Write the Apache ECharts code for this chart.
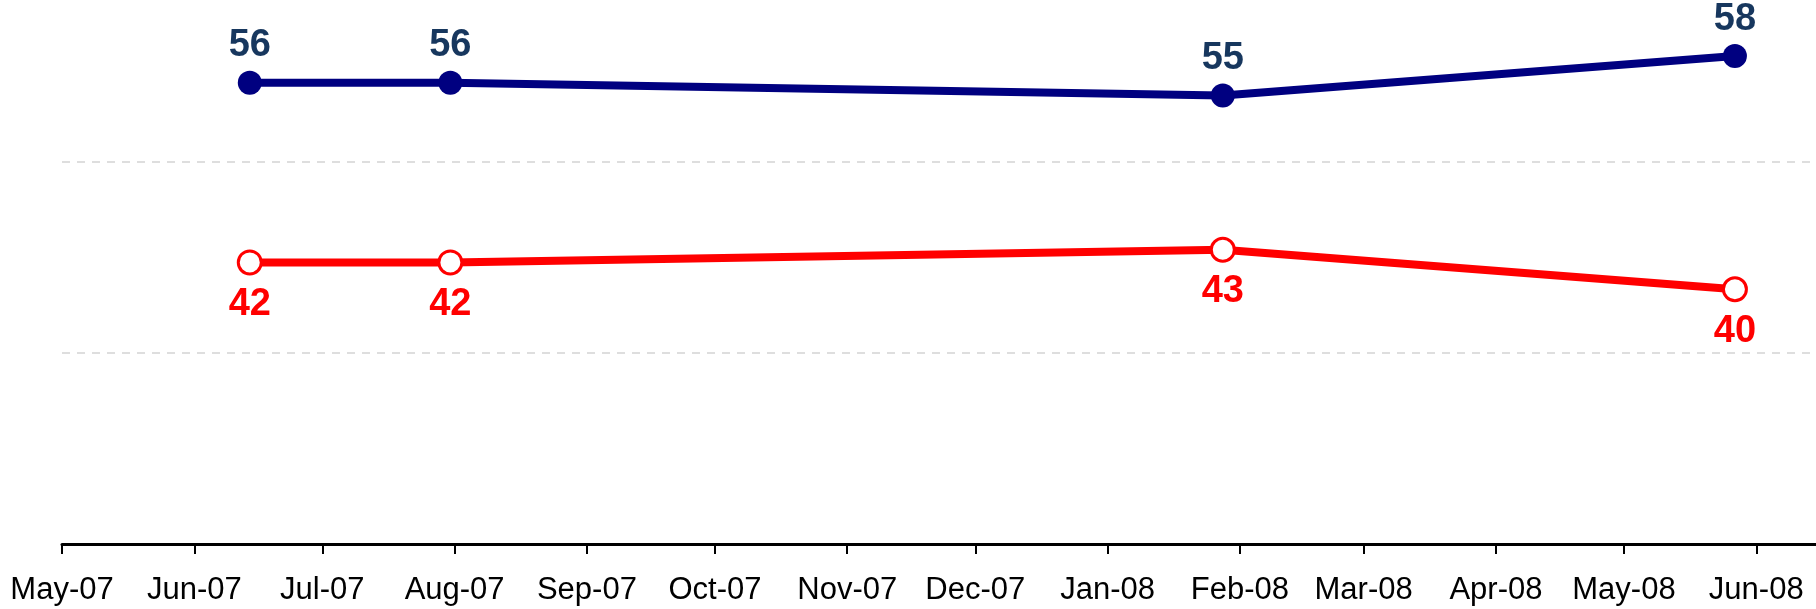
<!DOCTYPE html>
<html>
<head>
<meta charset="utf-8">
<script src="https://cdn.jsdelivr.net/npm/echarts@6/dist/echarts.min.js"></script>
<style>
  html, body { margin: 0; padding: 0; background: #fff; }
  #chart { width: 1816px; height: 609px; }
</style>
</head>
<body>
<div id="chart"></div>
<script>
// survey dates and results
const surveyDates = ['2007-06-14', '2007-07-31', '2008-01-28', '2008-05-27'];
const blueValues = [56.2, 56.2, 55.2, 58.3];
const redValues = [42.1, 42.1, 43.1, 40.0];

// x axis month ticks
const monthTicks = ['2007-05-01', '2007-06-01', '2007-07-01', '2007-08-01', '2007-09-01',
  '2007-10-01', '2007-11-01', '2007-12-01', '2008-01-01', '2008-02-01', '2008-03-01',
  '2008-04-01', '2008-05-01', '2008-06-01'];
const tickLabels = ['May-07', 'Jun-07', 'Jul-07', 'Aug-07', 'Sep-07', 'Oct-07', 'Nov-07',
  'Dec-07', 'Jan-08', 'Feb-08', 'Mar-08', 'Apr-08', 'May-08', 'Jun-08'];

const toTime = s => Date.UTC(+s.slice(0, 4), +s.slice(5, 7) - 1, +s.slice(8, 10));
const tickTimes = monthTicks.map(toTime);

const chart = echarts.init(document.getElementById('chart'));

const option = {
  backgroundColor: '#fff',
  animation: false,
  grid: {
    left: 62,
    right: 0,
    top: 0,
    bottom: 65
  },
  xAxis: {
    // date axis drawn as a numeric (ms) axis so ticks sit on month starts
    type: 'value',
    min: toTime('2007-05-01'),
    max: toTime('2008-06-15'),
    axisLine: { show: true, onZero: false, lineStyle: { color: '#000', width: 3 } },
    axisTick: {
      show: true,
      length: 10,
      customValues: tickTimes,
      lineStyle: { color: '#000', width: 2 }
    },
    axisLabel: {
      customValues: tickTimes,
      margin: 31,
      color: '#000',
      fontFamily: 'Liberation Sans, Arial, sans-serif',
      fontSize: 31,
      formatter: function (v) {
        const i = tickTimes.indexOf(v);
        return i >= 0 ? tickLabels[i] : '';
      }
    },
    splitLine: { show: false }
  },
  yAxis: {
    type: 'value',
    min: 20,
    max: 62.7,
    interval: 15,
    axisLine: { show: false },
    axisTick: { show: false },
    axisLabel: { show: false },
    splitLine: {
      show: true,
      showMinLine: false,
      showMaxLine: false,
      lineStyle: { color: '#d4d4d4', width: 1.5, type: [8, 7] }
    }
  },
  series: [
    {
      name: 'blue',
      type: 'line',
      data: surveyDates.map((d, i) => [toTime(d), blueValues[i]]),
      symbol: 'circle',
      symbolSize: 24,
      lineStyle: { color: '#000080', width: 8 },
      itemStyle: { color: '#000080' },
      label: {
        show: true,
        position: 'top',
        distance: 6,
        color: '#17375e',
        fontFamily: 'Liberation Sans, Arial, sans-serif',
        fontWeight: 'bold',
        fontSize: 38,
        formatter: p => Math.round(p.value[1])
      },
      z: 3
    },
    {
      name: 'red',
      type: 'line',
      data: surveyDates.map((d, i) => [toTime(d), redValues[i]]),
      symbol: 'circle',
      symbolSize: 23,
      lineStyle: { color: '#ff0000', width: 8 },
      itemStyle: { color: '#fff', borderColor: '#ff0000', borderWidth: 3 },
      label: {
        show: true,
        position: 'bottom',
        distance: 10,
        color: '#ff0000',
        fontFamily: 'Liberation Sans, Arial, sans-serif',
        fontWeight: 'bold',
        fontSize: 38,
        formatter: p => Math.round(p.value[1])
      },
      z: 3
    }
  ]
};

chart.setOption(option);
</script>
</body>
</html>
